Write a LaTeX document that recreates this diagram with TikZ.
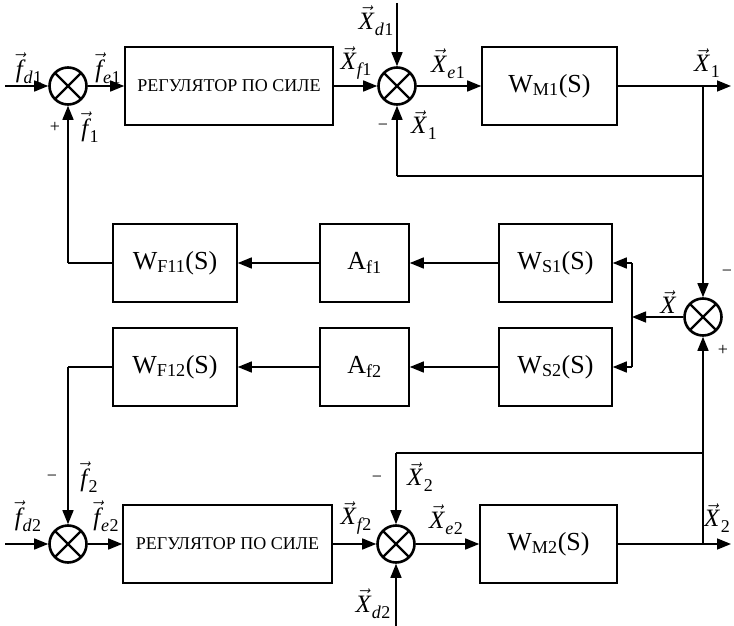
\documentclass[tikz,border=0pt]{standalone}
\usepackage{amsmath}
\usepackage{fontspec}
\setmainfont{Liberation Serif}
\usetikzlibrary{arrows.meta}
\newcommand\vsub[2]{\raisebox{-6pt}{\fontsize{18}{20}\selectfont\itshape #1\upshape\kern0.5pt #2}}
\newcommand\vlab[3]{$\vec{\textit{#1}}$\kern1pt\vsub{#2}{#3}}
\tikzset{
 blk/.style={draw, line width=1.6pt, minimum height=78pt, inner sep=0pt, font=\fontsize{26}{30}\selectfont},
 regbox/.style={blk, font=\fontsize{18}{20}\selectfont},
 sumn/.style={draw, circle, line width=2.6pt, minimum size=37pt, inner sep=0pt,
   path picture={\draw[line width=2.2pt] (path picture bounding box.north west) -- (path picture bounding box.south east)
     (path picture bounding box.north east) -- (path picture bounding box.south west);}},
 conn/.style={line width=1.5pt},
 arr/.style={conn, -{Triangle[length=14pt,width=11pt]}},
 lab/.style={font=\fontsize{25}{28}\selectfont, inner sep=0pt},
 sgn/.style={font=\fontsize{18}{20}\selectfont, inner sep=0pt},
}
\begin{document}
\begin{tikzpicture}[x=1pt,y=-1pt]
\useasboundingbox (0,0) rectangle (734,626);
% top row
\node[sumn] (s1) at (68,86) {};
\node[regbox, minimum width=208pt] (reg1) at (229,86) {РЕГУЛЯТОР ПО СИЛЕ};
\node[sumn] (s2) at (397,86) {};
\node[blk, minimum width=135pt] (wm1) at (549.5,86) {W$_{\text{M1}}$(S)};
% middle
\node[sumn] (s3) at (703,317) {};
\node[blk, minimum width=113pt] (ws1) at (555.5,263) {W$_{\text{S1}}$(S)};
\node[blk, minimum width=113pt] (ws2) at (555.5,367) {W$_{\text{S2}}$(S)};
\node[blk, minimum width=89pt] (af1) at (364.5,263) {A$_{\text{f1}}$};
\node[blk, minimum width=89pt] (af2) at (364.5,367) {A$_{\text{f2}}$};
\node[blk, minimum width=124pt] (wf11) at (175,263) {W$_{\text{F11}}$(S)};
\node[blk, minimum width=124pt] (wf12) at (175,367) {W$_{\text{F12}}$(S)};
% bottom row
\node[sumn] (s4) at (68,544) {};
\node[regbox, minimum width=209pt] (reg2) at (227.5,544) {РЕГУЛЯТОР ПО СИЛЕ};
\node[sumn] (s5) at (396,544) {};
\node[blk, minimum width=137pt] (wm2) at (548.5,544) {W$_{\text{M2}}$(S)};
% coordinates
\coordinate (in1) at (5,86);
\coordinate (out1) at (731,86);
\coordinate (b1) at (703,86);
\coordinate (b1d) at (703,176);
\coordinate (fb1) at (397,176);
\coordinate (xd1) at (397,3);
\coordinate (j) at (632,317);
\coordinate (j1) at (632,263);
\coordinate (j2) at (632,367);
\coordinate (l1) at (68,263);
\coordinate (l2) at (68,367);
\coordinate (in2) at (5,544);
\coordinate (out2) at (731,544);
\coordinate (b2) at (703,544);
\coordinate (b2u) at (703,453);
\coordinate (fb2) at (396,453);
\coordinate (xd2) at (396,626);
% connectors top
\draw[arr] (in1) -- (s1);
\draw[arr] (s1) -- (reg1);
\draw[arr] (reg1) -- (s2);
\draw[arr] (xd1) -- (s2);
\draw[arr] (s2) -- (wm1);
\draw[arr] (wm1) -- (out1);
\draw[conn] (b1) -- (b1d) -- (fb1);
\draw[arr] (fb1) -- (s2);
\draw[arr] (b1d) -- (s3);
% middle
\draw[arr] (s3) -- (j);
\draw[conn] (j1) -- (j2);
\draw[arr] (j1) -- (ws1);
\draw[arr] (j2) -- (ws2);
\draw[arr] (ws1) -- (af1);
\draw[arr] (af1) -- (wf11);
\draw[conn] (wf11) -- (l1);
\draw[arr] (l1) -- (s1);
\draw[arr] (ws2) -- (af2);
\draw[arr] (af2) -- (wf12);
\draw[conn] (wf12) -- (l2);
\draw[arr] (l2) -- (s4);
% bottom
\draw[arr] (in2) -- (s4);
\draw[arr] (s4) -- (reg2);
\draw[arr] (reg2) -- (s5);
\draw[arr] (s5) -- (wm2);
\draw[arr] (wm2) -- (out2);
\draw[arr] (b2) -- (s3);
\draw[conn] (b2u) -- (fb2);
\draw[arr] (fb2) -- (s5);
\draw[arr] (xd2) -- (s5);
% labels
\node[lab] (tfd1) at (29,68) {\vlab{f}{d}{1}};
\node[lab] (tfe1) at (108,68) {\vlab{f}{e}{1}};
\node[lab] (tf1) at (90,127) {\vlab{f}{}{1}};
\node[sgn] (p1) at (55,127) {+};
\node[lab] (txf1) at (356,63) {\vlab{X}{f}{1}};
\node[lab] (txd1) at (376,21) {\vlab{X}{d}{1}};
\node[lab] (txe1) at (448,64) {\vlab{X}{e}{1}};
\node[lab] (tx1a) at (424,125) {\vlab{X}{}{1}};
\node[sgn] (m1) at (383,127) {−};
\node[lab] (tx1o) at (707,63) {\vlab{X}{}{1}};
\node[lab] (tx) at (668,302) {$\vec{\textit{X}}$};
\node[sgn] (m3) at (727,273) {−};
\node[sgn] (p3) at (723,350) {+};
\node[lab] (tf2) at (89,477) {\vlab{f}{}{2}};
\node[sgn] (m4) at (52,478) {−};
\node[lab] (tfd2) at (28,516) {\vlab{f}{d}{2}};
\node[lab] (tfe2) at (106,516) {\vlab{f}{e}{2}};
\node[lab] (txf2) at (356,518) {\vlab{X}{f}{2}};
\node[lab] (txd2) at (373,604) {\vlab{X}{d}{2}};
\node[lab] (tx2a) at (420,477) {\vlab{X}{}{2}};
\node[sgn] (m5) at (377,479) {−};
\node[lab] (txe2) at (446,520) {\vlab{X}{e}{2}};
\node[lab] (tx2o) at (717,518) {\vlab{X}{}{2}};
\end{tikzpicture}
\end{document}
